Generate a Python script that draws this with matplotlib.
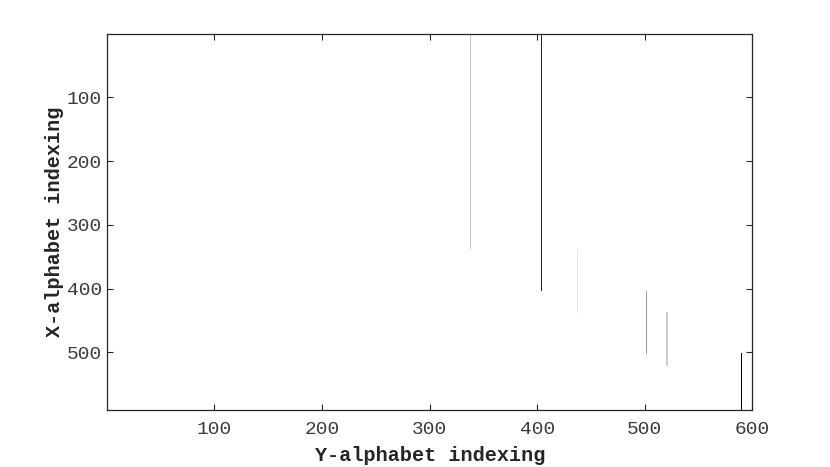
import numpy as np
import matplotlib
matplotlib.use("Agg")
from matplotlib import pyplot as plt

# alignment path segments: column, first row, last row, gray level (0=black, 1=white)
n_rows, n_cols = 590, 600
seg_cols = [338, 404, 438, 502, 521, 590]
seg_row_start = [1, 1, 338, 404, 438, 502]
seg_row_end = [338, 404, 438, 502, 521, 590]
seg_levels = [0.78, 0.15, 0.9, 0.6, 0.8, 0.0]

xticks = [100, 200, 300, 400, 500, 600]
yticks = [100, 200, 300, 400, 500]

img = np.ones((n_rows, n_cols))
for c, r0, r1, g in zip(seg_cols, seg_row_start, seg_row_end, seg_levels):
    img[r0 - 1:r1, c - 1] = g

plt.rcParams['font.family'] = ['Liberation Mono', 'DejaVu Sans Mono']
dark = '#262626'

fig = plt.figure(figsize=(8.3, 4.67), dpi=100)
ax = fig.add_axes([0.1293, 0.1221, 0.7771, 0.8051])
ax.imshow(img, cmap='gray', vmin=0, vmax=1, interpolation='nearest',
          aspect='auto', extent=[0.5, n_cols + 0.5, n_rows + 0.5, 0.5])
ax.set_xlim(0.5, n_cols)
ax.set_ylim(n_rows + 0.5, 0.5)

ax.set_xticks(xticks)
ax.set_yticks(yticks)
ax.tick_params(direction='in', length=4.6, width=0.8, colors=dark,
               labelcolor='#3a3a3a', top=True, right=True, labelsize=14)
ax.tick_params(axis='x', pad=8)
ax.tick_params(axis='y', pad=4)
for s in ax.spines.values():
    s.set_color(dark)
    s.set_linewidth(0.9)

ax.set_xlabel('Y-alphabet indexing', fontsize=14.5, fontweight='bold', color=dark, labelpad=6)
ax.set_ylabel('X-alphabet indexing', fontsize=14.5, fontweight='bold', color=dark, labelpad=2)

fig.savefig('out.png', dpi=100)
